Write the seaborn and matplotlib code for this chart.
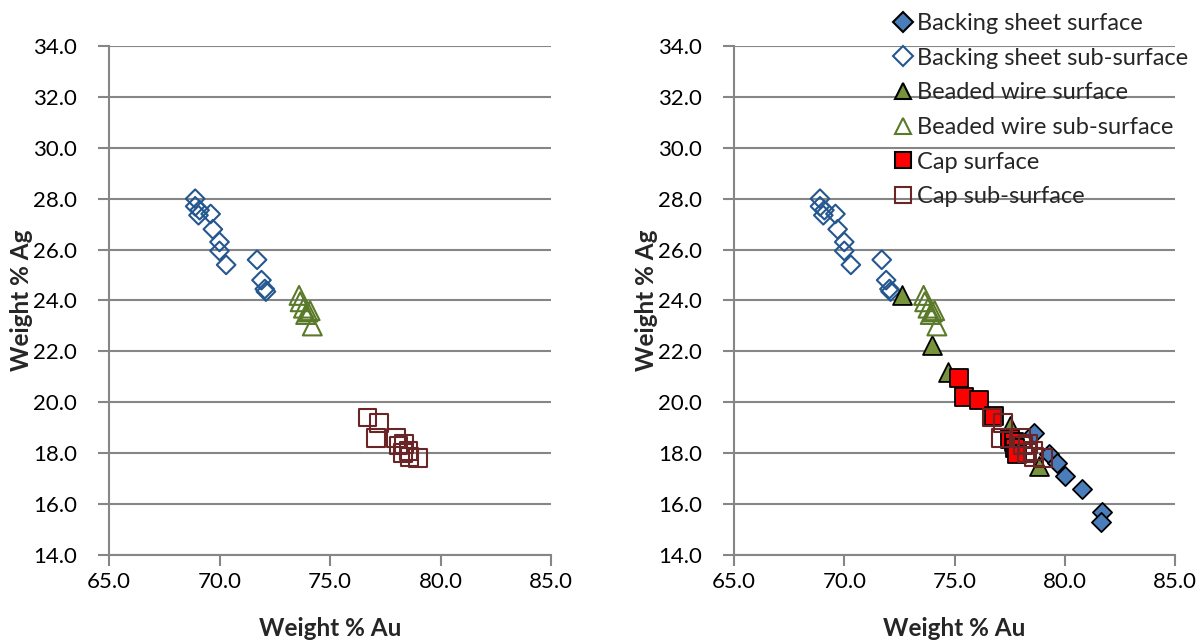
import matplotlib
matplotlib.use("Agg")
import matplotlib.pyplot as plt
import seaborn as sns
import pandas as pd
from matplotlib.lines import Line2D

# ---------------- data ----------------
bs_sub_au = [68.9, 68.9, 69.1, 69.05, 69.6, 69.7, 70.0, 70.0, 70.3, 71.7, 71.9, 72.05, 72.1]
bs_sub_ag = [28.0, 27.7, 27.55, 27.35, 27.4, 26.8, 26.3, 25.95, 25.4, 25.6, 24.8, 24.45, 24.35]

bw_sub_au = [73.6, 73.65, 73.8, 74.0, 74.1, 73.9, 74.2]
bw_sub_ag = [24.2, 23.95, 23.7, 23.55, 23.6, 23.45, 23.0]

cap_sub_au = [76.7, 77.2, 77.1, 78.0, 78.1, 78.35, 78.3, 78.55, 78.6, 79.0]
cap_sub_ag = [19.4, 19.2, 18.6, 18.6, 18.3, 18.35, 18.0, 18.1, 17.85, 17.8]

bs_surf_au = [78.6, 79.3, 79.65, 80.0, 80.8, 81.7, 81.65]
bs_surf_ag = [18.8, 17.95, 17.6, 17.1, 16.6, 15.7, 15.3]

bw_surf_au = [72.6, 74.0, 74.7, 77.5, 78.85]
bw_surf_ag = [24.2, 22.25, 21.2, 19.05, 17.5]

cap_surf_au = [75.2, 75.45, 76.1, 76.8, 77.5, 77.7, 77.75, 77.85]
cap_surf_ag = [20.95, 20.2, 20.1, 19.45, 18.55, 18.45, 18.2, 17.95]

x_ticks = [65.0, 70.0, 75.0, 80.0, 85.0]
y_ticks = [14.0, 16.0, 18.0, 20.0, 22.0, 24.0, 26.0, 28.0, 30.0, 32.0, 34.0]
x_label = "Weight % Au"
y_label = "Weight % Ag"
labels = ["Backing sheet surface", "Backing sheet sub-surface",
          "Beaded wire surface", "Beaded wire sub-surface",
          "Cap surface", "Cap sub-surface"]

# ---------------- style ----------------
sns.set_style("white")
plt.rcParams["font.family"] = ["Lato", "DejaVu Sans"]

GRID = "#868686"
BLUE_F, BLUE_E = "#4A7EBB", "#24578F"
GREEN_F, GREEN_E = "#77933C", "#5A7A2A"
RED_F, RED_E = "#FF0000", "#6B2527"

styles = {
    labels[0]: dict(marker="D", s=95, facecolor=BLUE_F, edgecolor="black", linewidth=1.3),
    labels[1]: dict(marker="D", s=90, facecolor="none", edgecolor=BLUE_E, linewidth=1.5),
    labels[2]: dict(marker="^", s=185, facecolor=GREEN_F, edgecolor="black", linewidth=1.3),
    labels[3]: dict(marker="^", s=185, facecolor="none", edgecolor=GREEN_E, linewidth=1.5),
    labels[4]: dict(marker="s", s=165, facecolor=RED_F, edgecolor="black", linewidth=1.3),
    labels[5]: dict(marker="s", s=165, facecolor="none", edgecolor=RED_E, linewidth=1.5),
}

fig = plt.figure(figsize=(12.02, 6.44), dpi=100)
axL = fig.add_axes([109 / 1202, 89 / 644, 442 / 1202, 509 / 644])
axR = fig.add_axes([734 / 1202, 89 / 644, 441 / 1202, 509 / 644])

def draw(ax, series):
    for lab, xs, ys in series:
        df = pd.DataFrame({"x": xs, "y": ys})
        sns.scatterplot(data=df, x="x", y="y", ax=ax, legend=False, zorder=3, **styles[lab])

draw(axL, [(labels[1], bs_sub_au, bs_sub_ag),
           (labels[3], bw_sub_au, bw_sub_ag),
           (labels[5], cap_sub_au, cap_sub_ag)])
draw(axR, [(labels[0], bs_surf_au, bs_surf_ag),
           (labels[1], bs_sub_au, bs_sub_ag),
           (labels[2], bw_surf_au, bw_surf_ag),
           (labels[3], bw_sub_au, bw_sub_ag),
           (labels[4], cap_surf_au, cap_surf_ag),
           (labels[5], cap_sub_au, cap_sub_ag)])

for ax in (axL, axR):
    ax.set_xlim(65, 85)
    ax.set_ylim(14, 34)
    ax.set_xticks(x_ticks)
    ax.set_yticks(y_ticks)
    ax.set_xticklabels([f"{v:.1f}" for v in x_ticks])
    ax.set_yticklabels([f"{v:.1f}" for v in y_ticks])
    ax.yaxis.grid(True, color=GRID, linewidth=1.5)
    ax.xaxis.grid(False)
    ax.set_axisbelow(True)
    for sp in ("top", "right"):
        ax.spines[sp].set_visible(False)
    for sp in ("left", "bottom"):
        ax.spines[sp].set_color(GRID)
        ax.spines[sp].set_linewidth(1.5)
    ax.tick_params(axis="both", which="both", direction="out", length=8, width=1.5,
                   color=GRID, labelsize=16, labelcolor="black", left=True, bottom=True)
    ax.tick_params(axis="y", pad=15)
    ax.tick_params(axis="x", pad=4)
    ax.set_xlabel(x_label, fontsize=17.5, fontweight="bold", labelpad=18)
    ax.set_ylabel(y_label, fontsize=17.5, fontweight="bold", labelpad=0)

handles = []
for lab in labels:
    st = styles[lab]
    handles.append(Line2D([], [], linestyle="none", marker=st["marker"],
                          markersize=12 if st["marker"] != "D" else 10,
                          markerfacecolor=st["facecolor"], markeredgecolor=st["edgecolor"],
                          markeredgewidth=1.5, label=lab))
fig.legend(handles=handles, loc="upper left", bbox_to_anchor=(877 / 1202, 1.0),
           frameon=False, fontsize=17, handletextpad=0.05, labelspacing=0.58,
           handlelength=1.1, borderaxespad=0.15)

fig.savefig("out.png", dpi=100)
